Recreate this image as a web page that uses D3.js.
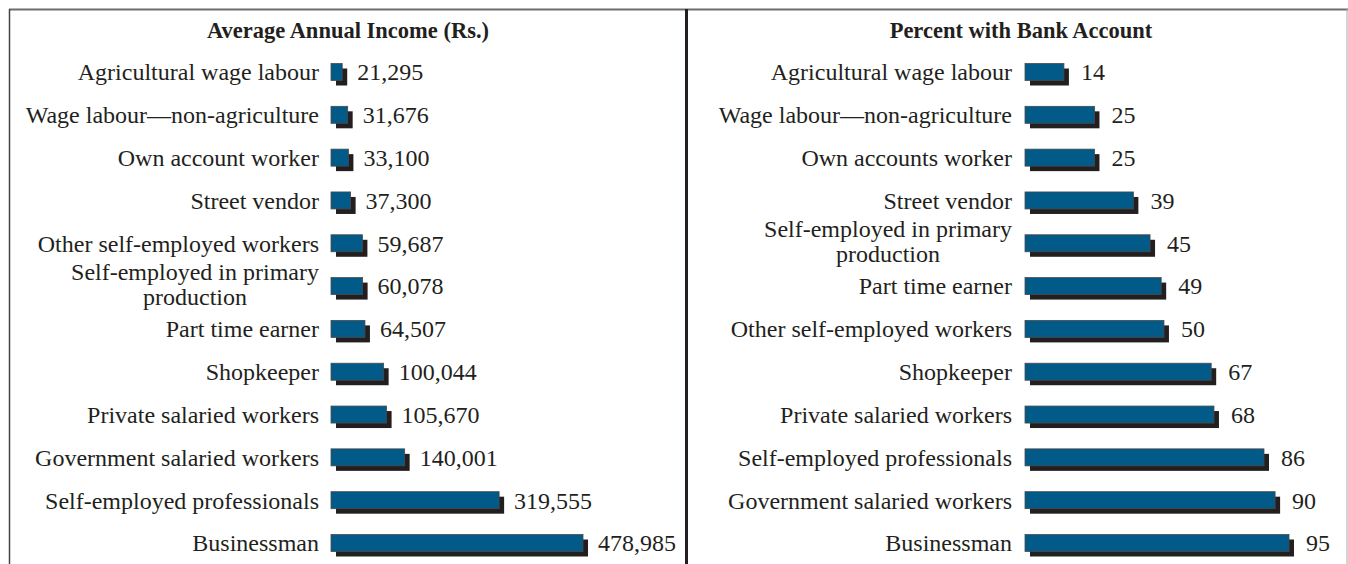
<!DOCTYPE html>
<html>
<head>
<meta charset="utf-8">
<script src="https://cdn.jsdelivr.net/npm/d3@7"></script>
<style>
  body { margin: 0; background: #fff; }
  svg text { font-family: "Liberation Serif", "Times New Roman", serif; fill: #231f20; }
</style>
</head>
<body>
<svg id="drawing_region"></svg>
<script>
// left panel data
const incomeCategories = [
    "Agricultural wage labour", "Wage labour\u2014non-agriculture", "Own account worker",
    "Street vendor", "Other self-employed workers", "Self-employed in primary|production",
    "Part time earner", "Shopkeeper", "Private salaried workers",
    "Government salaried workers", "Self-employed professionals", "Businessman"
];
const incomeValues = [21295, 31676, 33100, 37300, 59687, 60078, 64507, 100044, 105670, 140001, 319555, 478985];

// right panel data
const bankCategories = [
    "Agricultural wage labour", "Wage labour\u2014non-agriculture", "Own accounts worker",
    "Street vendor", "Self-employed in primary|production", "Part time earner",
    "Other self-employed workers", "Shopkeeper", "Private salaried workers",
    "Self-employed professionals", "Government salaried workers", "Businessman"
];
const bankValues = [14, 25, 25, 39, 45, 49, 50, 67, 68, 86, 90, 95];

const W = 1348, H = 564;
const svg = d3.select('#drawing_region')
    .attr('width', W)
    .attr('height', H);

// frame
svg.append('line').attr('x1', 9).attr('x2', W).attr('y1', 9.5).attr('y2', 9.5)
    .attr('stroke', '#6d6d6d').attr('stroke-width', 2);
svg.append('line').attr('x1', 9.5).attr('x2', 9.5).attr('y1', 9).attr('y2', H)
    .attr('stroke', '#444').attr('stroke-width', 1.5);
svg.append('line').attr('x1', 686.5).attr('x2', 686.5).attr('y1', 9).attr('y2', H)
    .attr('stroke', '#231f20').attr('stroke-width', 3);
svg.append('line').attr('x1', 1347).attr('x2', 1347).attr('y1', 9).attr('y2', H)
    .attr('stroke', '#aaa').attr('stroke-width', 1);

function drawPanel(cfg) {
    const g = svg.append('g');
    const data = cfg.categories.map((c, i) => ({label: c, value: cfg.values[i]}));

    const y = d3.scalePoint().domain(cfg.categories).range([72, 543]);
    const x = d3.scaleLinear().domain([0, cfg.max]).range([cfg.x0, cfg.x1]);
    const bh = 17, off = 5;

    g.append('text')
        .attr('x', cfg.titleX).attr('y', 38)
        .attr('text-anchor', 'middle')
        .attr('font-weight', 'bold')
        .attr('font-size', 22.5)
        .text(cfg.title);

    // shadows
    g.selectAll('.shadow').data(data).enter().append('rect')
        .attr('x', d => x(0) + off)
        .attr('y', d => y(d.label) - bh / 2 + off)
        .attr('width', d => x(d.value) - x(0))
        .attr('height', bh)
        .attr('fill', '#231f20');

    g.selectAll('.bar').data(data).enter().append('rect')
        .attr('x', d => x(0))
        .attr('y', d => y(d.label) - bh / 2)
        .attr('width', d => x(d.value) - x(0))
        .attr('height', bh)
        .attr('fill', '#015a87')
        .attr('stroke', '#4a4a4a')
        .attr('stroke-width', 0.8);

    g.selectAll('.value').data(data).enter().append('text')
        .attr('x', d => x(d.value) + cfg.gap)
        .attr('y', d => y(d.label))
        .attr('dy', '0.35em')
        .attr('font-size', 24)
        .text(d => cfg.fmt(d.value));

    g.selectAll('.label').data(data).enter().append('text')
        .attr('x', cfg.labelX)
        .attr('y', d => y(d.label))
        .attr('font-size', 24)
        .attr('text-anchor', 'end')
        .each(function(d) {
            const t = d3.select(this);
            const lines = d.label.split('|');
            if (lines.length === 1) {
                t.attr('dy', '0.35em').text(lines[0]);
            } else {
                const first = t.append('tspan').attr('x', cfg.labelX).attr('dy', '-0.25em').text(lines[0]);
                const len = first.node().getComputedTextLength();
                t.append('tspan')
                    .attr('x', cfg.labelX - len / 2)
                    .attr('dy', '1.05em')
                    .attr('text-anchor', 'middle')
                    .text(lines[1]);
            }
        });
}

drawPanel({
    categories: incomeCategories, values: incomeValues, max: 478985,
    x0: 331, x1: 583, gap: 15, labelX: 319, titleX: 348,
    title: 'Average Annual Income (Rs.)', fmt: d3.format(',')
});
drawPanel({
    categories: bankCategories, values: bankValues, max: 95,
    x0: 1025, x1: 1289, gap: 17, labelX: 1012, titleX: 1021,
    title: 'Percent with Bank Account', fmt: d => d
});
</script>
</body>
</html>
